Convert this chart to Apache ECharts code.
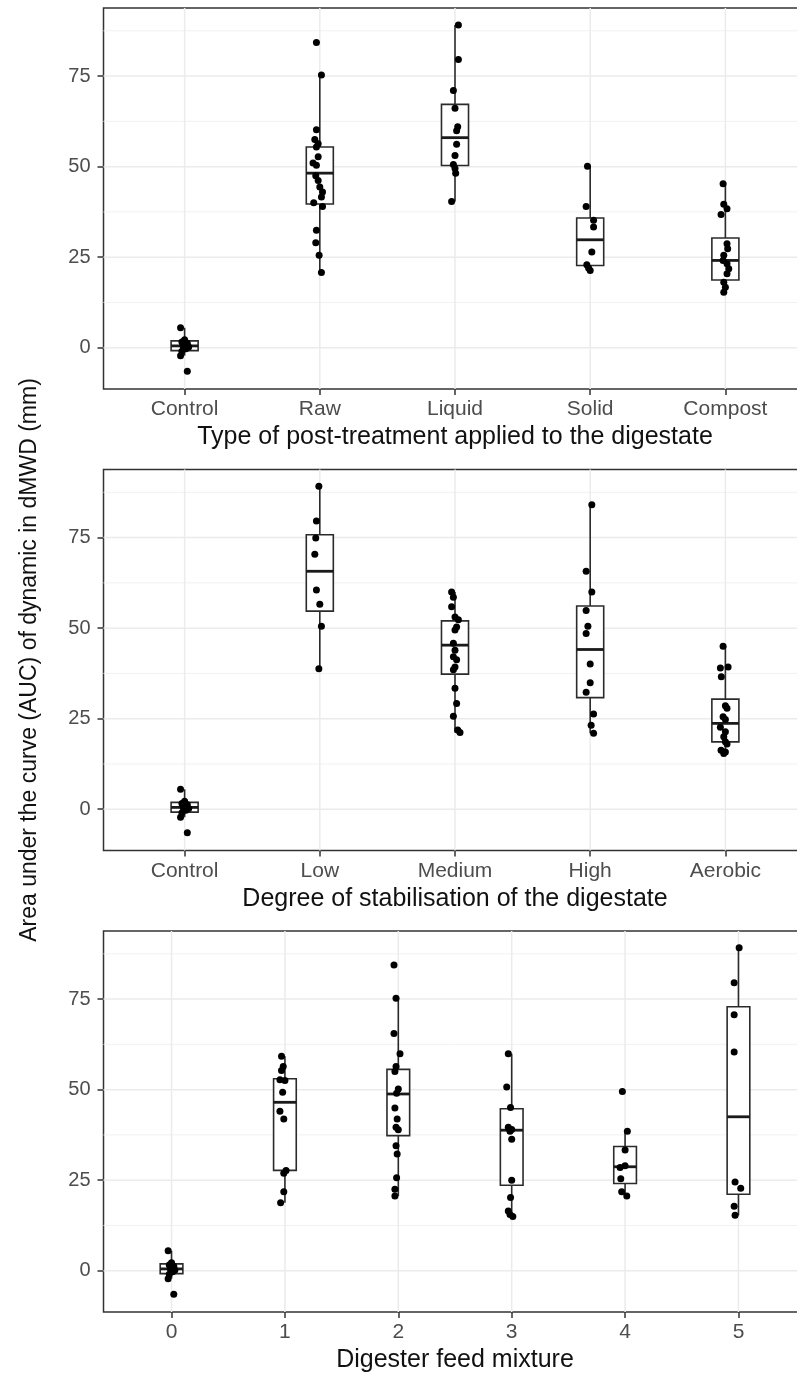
<!DOCTYPE html>
<html>
<head>
<meta charset="utf-8">
<script src="https://cdn.jsdelivr.net/npm/echarts@6.0.0/dist/echarts.min.js"></script>
<style>
html, body { margin: 0; padding: 0; background: #fff; }
#chart { width: 797px; height: 1374px; }
</style>
</head>
<body>
<div id="chart"></div>
<script>
// y scale shared by the three panels
var yMajor = [0, 25, 50, 75];
var yMinor = [12.5, 37.5, 62.5, 87.5];
var yLow = -11.4, yHigh = 93.8;
var yTitle = 'Area under the curve (AUC) of dynamic in dMWD (mm)';

// control plots (same in every panel)
var controlVals = [5.5, 2.2, 1.6, 1.2, 0.8, 0.5, 0.2, -0.3, -1.0, -2.2, -6.5];
var controlJitter = [-0.03, 0.0, -0.02, 0.02, 0.0, -0.01, 0.03, 0.01, -0.02, -0.03, 0.02];
var controlBox = [-2.2, -0.8, 0.5, 1.9, 5.5];   // low whisker, q1, median, q3, high whisker

// panel 1 : post-treatment
var treatmentCats = ['Control', 'Raw', 'Liquid', 'Solid', 'Compost'];
var treatmentTitle = 'Type of post-treatment applied to the digestate';
var rawVals = [84.3, 75.3, 60.2, 57.5, 56.3, 55.4, 52.7, 51.0, 50.4, 47.5, 46.2, 44.4, 43.0, 41.6, 40.0, 39.0, 32.4, 29.0, 25.5, 20.8];
var rawJitter = [-0.025, 0.012, -0.025, -0.037, -0.012, -0.025, -0.012, -0.05, -0.025, -0.03, -0.012, 0.0, 0.02, 0.012, -0.045, 0.02, -0.025, -0.03, -0.005, 0.012];
var liquidVals = [89.1, 79.6, 71.0, 66.1, 61.0, 59.9, 56.2, 53.1, 50.6, 49.5, 48.2, 40.4];
var liquidJitter = [0.025, 0.025, -0.012, 0.0, 0.02, 0.012, 0.012, 0.0, -0.012, 0.0, 0.005, -0.025];
var solidVals = [50.1, 39.0, 35.2, 33.3, 26.4, 22.9, 22.0, 21.3];
var solidJitter = [-0.02, -0.03, 0.025, 0.025, 0.012, -0.025, -0.012, 0.0];
var compostVals = [45.3, 39.6, 38.4, 36.8, 28.7, 27.3, 25.5, 24.1, 23.2, 21.8, 20.4, 18.1, 16.7, 15.3];
var compostJitter = [-0.017, -0.012, 0.012, -0.032, 0.012, 0.017, -0.012, -0.017, 0.012, 0.025, 0.012, -0.012, 0.0, -0.012];
var treatmentBoxes = [controlBox, [20.8, 39.7, 48.2, 55.4, 75.3], [40.4, 50.3, 58.0, 67.2, 89.1],
    [21.3, 22.7, 29.8, 35.8, 50.1], [15.3, 18.7, 24.1, 30.3, 45.3]];

// panel 2 : stabilisation
var stabCats = ['Control', 'Low', 'Medium', 'High', 'Aerobic'];
var stabTitle = 'Degree of stabilisation of the digestate';
var lowVals = [89.2, 79.6, 74.9, 70.4, 60.5, 56.6, 50.5, 38.8];
var lowJitter = [-0.007, -0.025, -0.03, -0.037, -0.025, 0.0, 0.012, -0.007];
var mediumVals = [60.0, 58.5, 55.9, 53.1, 52.3, 50.3, 49.5, 45.8, 43.9, 42.1, 41.3, 39.3, 38.5, 33.4, 29.2, 25.7, 21.9, 21.2];
var mediumJitter = [-0.025, -0.012, -0.025, 0.0, 0.025, 0.012, 0.0, -0.012, 0.0, -0.012, 0.012, 0.0, -0.012, 0.0, 0.012, -0.012, 0.02, 0.037];
var highVals = [84.1, 65.7, 60.0, 54.9, 50.5, 48.5, 40.1, 34.9, 32.3, 26.3, 23.2, 21.0];
var highJitter = [0.012, -0.03, 0.012, -0.03, -0.017, -0.03, 0.0, 0.0, -0.03, 0.025, 0.007, 0.025];
var aerobicVals = [45.0, 39.3, 39.0, 36.6, 28.6, 27.9, 25.5, 24.8, 22.6, 21.4, 20.0, 18.6, 18.0, 16.3, 15.8, 15.4];
var aerobicJitter = [-0.017, 0.02, -0.037, -0.03, 0.0, 0.012, -0.017, 0.0, -0.037, 0.0, -0.012, 0.0, 0.012, -0.032, 0.0, -0.012];
var stabBoxes = [controlBox, [38.8, 54.7, 65.7, 75.8, 89.2], [21.2, 37.3, 45.3, 52.0, 60.0],
    [21.0, 30.8, 44.1, 56.1, 84.1], [15.4, 18.6, 23.7, 30.4, 45.0]];

// panel 3 : feed mixture
var feedCats = ['0', '1', '2', '3', '4', '5'];
var feedTitle = 'Digester feed mixture';
var feed1Vals = [59.2, 56.4, 55.3, 52.7, 52.5, 49.3, 44.0, 41.9, 27.7, 26.9, 21.8, 18.8];
var feed1Jitter = [-0.03, -0.015, -0.03, -0.044, 0.0, -0.02, -0.044, -0.01, 0.01, -0.01, -0.01, -0.038];
var feed2Vals = [84.4, 75.2, 65.5, 59.9, 56.4, 55.0, 50.2, 49.0, 44.9, 41.9, 39.6, 38.9, 34.5, 32.2, 25.7, 22.5, 20.6];
var feed2Jitter = [-0.038, -0.02, -0.038, 0.015, -0.02, -0.03, 0.0, -0.015, -0.03, -0.01, -0.02, 0.0, -0.02, -0.01, -0.015, -0.03, -0.03];
var feed3Vals = [59.9, 50.7, 45.1, 39.6, 39.0, 38.5, 36.3, 25.0, 20.2, 16.5, 15.5, 15.0];
var feed3Jitter = [-0.03, -0.044, -0.01, -0.03, 0.0, -0.015, 0.0, 0.0, -0.01, -0.03, -0.015, 0.01];
var feed4Vals = [49.5, 38.5, 33.3, 29.0, 28.5, 25.4, 21.8, 20.6];
var feed4Jitter = [-0.024, 0.02, 0.0, 0.0, -0.044, -0.038, -0.03, 0.015];
var feed5Vals = [89.2, 79.5, 70.7, 60.4, 24.5, 22.8, 17.8, 15.3];
var feed5Jitter = [0.006, -0.038, -0.038, -0.038, -0.03, 0.02, -0.038, -0.03];
var feedBoxes = [controlBox, [18.8, 27.7, 46.5, 53.0, 59.2], [20.6, 37.3, 48.8, 55.6, 75.2],
    [15.0, 23.6, 38.8, 44.7, 59.9], [20.6, 24.1, 28.7, 34.3, 38.5], [15.3, 21.1, 42.5, 72.9, 89.2]];

var panels = [
    [treatmentCats, treatmentTitle, [controlVals, rawVals, liquidVals, solidVals, compostVals],
        [controlJitter, rawJitter, liquidJitter, solidJitter, compostJitter], treatmentBoxes],
    [stabCats, stabTitle, [controlVals, lowVals, mediumVals, highVals, aerobicVals],
        [controlJitter, lowJitter, mediumJitter, highJitter, aerobicJitter], stabBoxes],
    [feedCats, feedTitle, [controlVals, feed1Vals, feed2Vals, feed3Vals, feed4Vals, feed5Vals],
        [controlJitter, feed1Jitter, feed2Jitter, feed3Jitter, feed4Jitter, feed5Jitter], feedBoxes]
];

var FONT = '"Liberation Sans", Arial, sans-serif';
var gridTops = [8, 469.5, 931];
var panelHeight = 381;

var gridItem = function (params, api) {
    var cs = params.coordSys;
    var kind = api.value(0), v = api.value(1);
    if (kind === 2) {
        var x = api.coord([v, 0])[0];
        return {type: 'line', shape: {x1: x, y1: cs.y, x2: x, y2: cs.y + cs.height},
            style: {stroke: '#ebebeb', lineWidth: 1.5}};
    }
    var y = api.coord([0, v])[1];
    return {type: 'line', shape: {x1: cs.x, y1: y, x2: cs.x + cs.width, y2: y},
        style: {stroke: kind === 0 ? '#ebebeb' : '#f1f1f1', lineWidth: kind === 0 ? 1.5 : 1}};
};

var boxItem = function (params, api) {
    var x = api.value(0);
    var lo = api.coord([x, api.value(1)]), q1 = api.coord([x, api.value(2)]),
        md = api.coord([x, api.value(3)]), q3 = api.coord([x, api.value(4)]),
        hi = api.coord([x, api.value(5)]);
    var half = api.size([0.2, 0])[0] / 2;
    var cx = lo[0];
    var st = {stroke: '#2b2b2b', lineWidth: 1.6};
    return {type: 'group', children: [
        {type: 'line', shape: {x1: cx, y1: q3[1], x2: cx, y2: hi[1]}, style: st},
        {type: 'line', shape: {x1: cx, y1: q1[1], x2: cx, y2: lo[1]}, style: st},
        {type: 'rect', shape: {x: cx - half, y: q3[1], width: 2 * half, height: q1[1] - q3[1]},
            style: {stroke: '#2b2b2b', lineWidth: 1.6, fill: '#fff'}},
        {type: 'line', shape: {x1: cx - half, y1: md[1], x2: cx + half, y2: md[1]},
            style: {stroke: '#1a1a1a', lineWidth: 2.8}}
    ]};
};

var grids = [], xAxes = [], yAxes = [], series = [];
panels.forEach(function (p, k) {
    var cats = p[0], title = p[1], vals = p[2], jit = p[3], boxes = p[4];
    var idx = cats.map(function (c, i) { return i; });
    // the panel runs past the right edge of the picture, as in the original
    grids.push({left: 103.5, width: 703, top: gridTops[k], height: panelHeight,
        outerBoundsMode: 'none', containLabel: false,
        show: true, borderColor: '#333', borderWidth: 1.5, backgroundColor: '#fff'});
    xAxes.push({
        type: 'value', gridIndex: k, min: -0.6, max: cats.length - 0.4,
        name: title, nameLocation: 'middle', nameGap: 36,
        nameTextStyle: {fontFamily: FONT, fontSize: 25, color: '#111'},
        axisLine: {show: false, onZero: false}, splitLine: {show: false},
        axisTick: {show: true, customValues: idx, length: 6, lineStyle: {color: '#333', width: 1.5}},
        axisLabel: {customValues: idx, margin: 10, fontFamily: FONT, fontSize: 21, color: '#4d4d4d',
            formatter: function (v) { return cats[Math.round(v)]; }}
    });
    yAxes.push({
        type: 'value', gridIndex: k, min: yLow, max: yHigh,
        name: k === 1 ? yTitle : '', nameLocation: 'middle', nameGap: 62, nameRotate: 90,
        nameTextStyle: {fontFamily: FONT, fontSize: 23, color: '#111'},
        axisLine: {show: false, onZero: false}, splitLine: {show: false},
        axisTick: {show: true, customValues: yMajor, length: 6, lineStyle: {color: '#333', width: 1.5}},
        axisLabel: {customValues: yMajor, margin: 13, fontFamily: FONT, fontSize: 20, color: '#4d4d4d'}
    });
    var gridData = yMajor.map(function (v) { return [0, v]; })
        .concat(yMinor.map(function (v) { return [1, v]; }))
        .concat(idx.map(function (i) { return [2, i]; }));
    series.push({type: 'custom', xAxisIndex: k, yAxisIndex: k, silent: true, z: 1,
        renderItem: gridItem, data: gridData});
    series.push({type: 'custom', xAxisIndex: k, yAxisIndex: k, silent: true, z: 2,
        renderItem: boxItem, encode: {x: 0, y: [1, 2, 3, 4, 5]},
        data: boxes.map(function (b, i) { return [i].concat(b); })});
    var pts = [];
    vals.forEach(function (arr, i) {
        arr.forEach(function (v, j) { pts.push([i + jit[i][j], v]); });
    });
    series.push({type: 'scatter', xAxisIndex: k, yAxisIndex: k, z: 3, symbolSize: 7,
        itemStyle: {color: '#000', opacity: 1}, data: pts});
});

var chart = echarts.init(document.getElementById('chart'), null, {renderer: 'canvas'});
chart.setOption({
    animation: false,
    backgroundColor: '#fff',
    grid: grids, xAxis: xAxes, yAxis: yAxes, series: series
});
</script>
</body>
</html>
